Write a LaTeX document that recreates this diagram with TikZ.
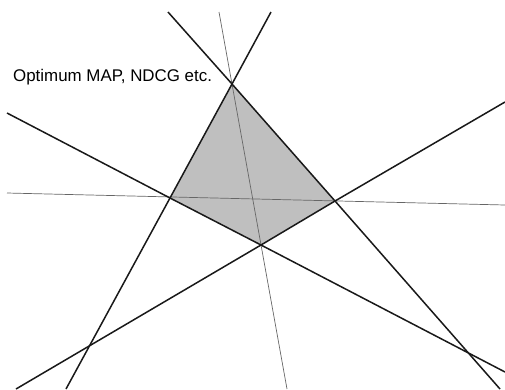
\documentclass[tikz,border=0pt]{standalone}
\usepackage{fontspec}
\setmainfont{Liberation Sans}
\usetikzlibrary{positioning}

\begin{document}
\begin{tikzpicture}[
    x=1pt, y=-1pt,
    bound/.style={line width=1.5pt, black!90},
    guide/.style={line width=0.7pt, black!60},
    region/.style={fill=black!25},
    lbl/.style={anchor=base west, inner sep=0pt, font=\fontsize{16.9}{20}\selectfont},
]
\useasboundingbox (0,0) rectangle (505,389);

% Corners of the optimal region.
\coordinate (apex)  at (232,84);
\coordinate (left)  at (170,198);
\coordinate (right) at (335,201);
\coordinate (foot)  at (261,245);

% Free ends of the constraint lines.
\coordinate (a_top) at (168,12);
\coordinate (a_bot) at (500,389);
\coordinate (b_top) at (271,12);
\coordinate (b_bot) at (66,389);
\coordinate (c_lft) at (7,113);
\coordinate (c_rgt) at (505,372);
\coordinate (d_rgt) at (505,102);
\coordinate (d_lft) at (16,389);
\coordinate (h_lft) at (7,193);
\coordinate (h_rgt) at (505,205);
\coordinate (v_top) at (219,12);
\coordinate (v_bot) at (287,389);

% Shaded feasible region.
\fill[region] (apex) -- (right) -- (foot) -- (left) -- cycle;

% Thin guide lines.
\draw[guide] (h_lft) -- (h_rgt);
\draw[guide] (v_top) -- (v_bot);

% Bounding lines (each runs through two corners).
\draw[bound] (a_top) -- (apex) -- (right) -- (a_bot);
\draw[bound] (b_top) -- (apex) -- (left) -- (b_bot);
\draw[bound] (c_lft) -- (left) -- (foot) -- (c_rgt);
\draw[bound] (d_rgt) -- (right) -- (foot) -- (d_lft);

\node[lbl] (optlbl) at (13,81) {Optimum MAP, NDCG etc.};
\end{tikzpicture}
\end{document}
